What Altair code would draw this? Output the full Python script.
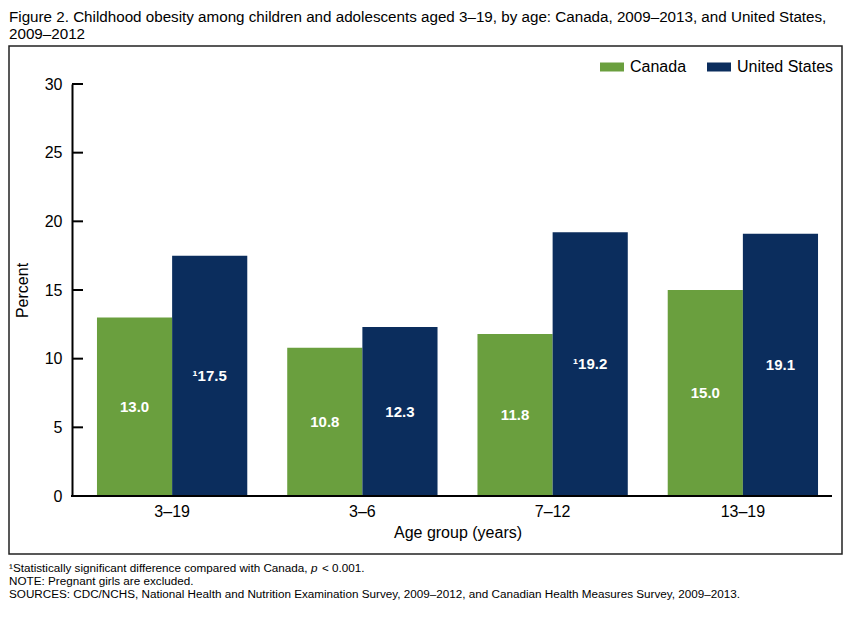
import altair as alt
import pandas as pd

ages = ["3–19", "3–6", "7–12", "13–19"]
countries = ["Canada", "United States"]
canada = [13.0, 10.8, 11.8, 15.0]
us = [17.5, 12.3, 19.2, 19.1]
canada_labels = ["13.0", "10.8", "11.8", "15.0"]
us_labels = ["¹17.5", "12.3", "¹19.2", "19.1"]
y_ticks = [0, 5, 10, 15, 20, 25, 30]
colors = ["#6a9f3e", "#0b2d5d"]

title_lines = [
    "Figure 2. Childhood obesity among children and adolescents aged 3–19, by age: Canada, 2009–2013, and United States,",
    "2009–2012",
]
foot1a = "¹Statistically significant difference compared with Canada,"
foot1b = "p"
foot1c = "< 0.001."
foot2 = "NOTE: Pregnant girls are excluded."
foot3 = "SOURCES: CDC/NCHS, National Health and Nutrition Examination Survey, 2009–2012, and Canadian Health Measures Survey, 2009–2013."

rows = []
for i, a in enumerate(ages):
    rows.append({"age": a, "country": "Canada", "value": canada[i], "label": canada_labels[i]})
    rows.append({"age": a, "country": "United States", "value": us[i], "label": us_labels[i]})
df = pd.DataFrame(rows)

FONT = "Liberation Sans"

x_enc = alt.X("age:N", sort=ages, title="Age group (years)",
              scale=alt.Scale(paddingInner=0.21, paddingOuter=0.105),
              axis=alt.Axis(domain=False, ticks=False, labelAngle=0, labelFontSize=16,
                            labelPadding=7, titlePadding=5, titleFontSize=16,
                            titleFontWeight="normal", labelFont=FONT, titleFont=FONT,
                            labelColor="black", titleColor="black"))
xo_enc = alt.XOffset("country:N", sort=countries, scale=alt.Scale(paddingInner=0, paddingOuter=0))

y_scale = alt.Scale(domain=[0, 30], nice=False, zero=True)

bars = alt.Chart(df).mark_bar().encode(
    x=x_enc,
    xOffset=xo_enc,
    y=alt.Y("value:Q", scale=y_scale, title="Percent",
            axis=alt.Axis(values=y_ticks, grid=False, ticks=False, domain=True,
                          domainColor="black", domainWidth=2, offset=5,
                          labelFontSize=16, labelPadding=10, labelFont=FONT,
                          labelColor="black", titleFont=FONT, titleFontSize=16,
                          titleFontWeight="normal", titleColor="black", titlePadding=14)),
    color=alt.Color("country:N", sort=countries, title=None,
                    scale=alt.Scale(domain=countries, range=colors),
                    legend=alt.Legend(orient="none", legendX=523, legendY=-29,
                                      direction="horizontal",
                                      symbolType="M-1,-0.375L1,-0.375L1,0.375L-1,0.375Z",
                                      symbolSize=576, symbolStrokeWidth=0, symbolOpacity=1,
                                      labelFontSize=16, labelFont=FONT, labelColor="black",
                                      labelOffset=6, columnPadding=20)),
)

labels = alt.Chart(df).transform_calculate(mid="datum.value / 2").mark_text(
    color="white", fontWeight="bold", fontSize=15, font=FONT, baseline="middle"
).encode(
    x=alt.X("age:N", sort=ages),
    xOffset=xo_enc,
    y=alt.Y("mid:Q", scale=y_scale, title="Percent"),
    text="label:N",
)

tick_df = pd.DataFrame({"t": y_ticks})
ticks = alt.Chart(tick_df).mark_rule(color="black", strokeWidth=2).encode(
    y=alt.Y("t:Q", scale=y_scale, title="Percent"),
    x=alt.value(-5),
    x2=alt.value(6),
)

one = alt.Data(values=[{}])

xaxis_line = alt.Chart(one).mark_rule(color="black", strokeWidth=2).encode(
    x=alt.value(-6), x2=alt.value(755), y=alt.value(412)
)

frame = alt.Chart(one).mark_rect(fillOpacity=0, stroke="#222222", strokeWidth=1.5).encode(
    x=alt.value(-68), x2=alt.value(765), y=alt.value(-38), y2=alt.value(470)
)

title = alt.Chart(one).mark_text(
    text=title_lines, align="left", baseline="top", fontSize=15.2, font=FONT,
    lineHeight=16.5, color="black"
).encode(x=alt.value(-68), y=alt.value(-74))

def foot(txt, x, y, italic=False):
    return alt.Chart(one).mark_text(
        text=txt, align="left", baseline="middle", fontSize=11.7, font=FONT,
        color="black", fontStyle="italic" if italic else "normal"
    ).encode(x=alt.value(x), y=alt.value(y))

f1a = foot(foot1a, -68, 484)
f1b = foot(foot1b, 234, 484, italic=True)
f1c = foot(foot1c, 245, 484)
f2 = foot(foot2, -68, 497)
f3 = foot(foot3, -68, 510)

chart = alt.layer(frame, bars, labels, ticks, xaxis_line, title, f1a, f1b, f1c, f2, f3).properties(
    width=761, height=412,
    autosize=alt.AutoSizeParams(type="none"),
    padding={"left": 69, "top": 76, "right": 6, "bottom": 115},
).configure_view(stroke=None)

chart.save("out.html", embed_options={"renderer": "svg", "actions": False})
